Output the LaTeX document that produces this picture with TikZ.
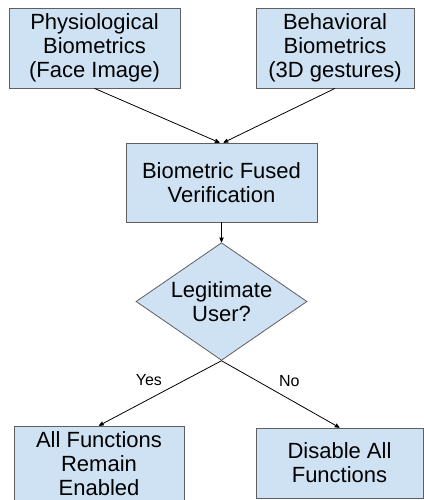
\documentclass[tikz,border=0pt]{standalone}
\usepackage{fontspec}
\setmainfont{Liberation Sans}
\usepackage{tikz}
\usetikzlibrary{arrows,shapes.geometric}
\definecolor{boxfill}{HTML}{CFE2F3}
\definecolor{boxline}{HTML}{5F5F5F}

\begin{document}
\begin{tikzpicture}[x=1pt,y=-1pt,
	box/.style={draw=boxline,fill=boxfill,line width=0.8pt,align=center,inner sep=0pt,
		font=\fontsize{22}{24}\selectfont},
	decision/.style={box,diamond,inner sep=-6pt},
	answer/.style={font=\fontsize{16}{18}\selectfont,inner sep=4pt},
	>=stealth']
			\useasboundingbox (0,0) rectangle (423,500);
			\node[box,minimum width=171pt,minimum height=80pt] (phys) at (94.5,48) {Physiological\\Biometrics\\(Face Image)};
			\node[box,minimum width=158pt,minimum height=80pt] (behav) at (335,48) {Behavioral\\Biometrics\\(3D gestures)};
			\node[box,minimum width=191pt,minimum height=79pt] (fused) at (221.5,182.5) {Biometric Fused\\Verification};
			\node[decision,minimum width=171pt,minimum height=97pt] (legit) at (221.5,301.5) {Legitimate\\User?};
			\node[box,minimum width=170pt,minimum height=76pt] (enabled) at (99,464) {All Functions\\Remain\\Enabled};
			\node[box,minimum width=167pt,minimum height=70pt] (disable) at (339.5,463) {Disable All\\Functions};
			\path[->,line width=0.8pt]
			(phys.south) edge ([xshift=-2pt]fused.north)
			(behav.south) edge ([xshift=2pt]fused.north)
			(fused) edge (legit)
			(legit.south) edge node[answer,auto,swap,pos=0.45]{Yes} (enabled.north)
					edge node[answer,auto,pos=0.45]{No} (disable.north);
		\end{tikzpicture}
\end{document}
